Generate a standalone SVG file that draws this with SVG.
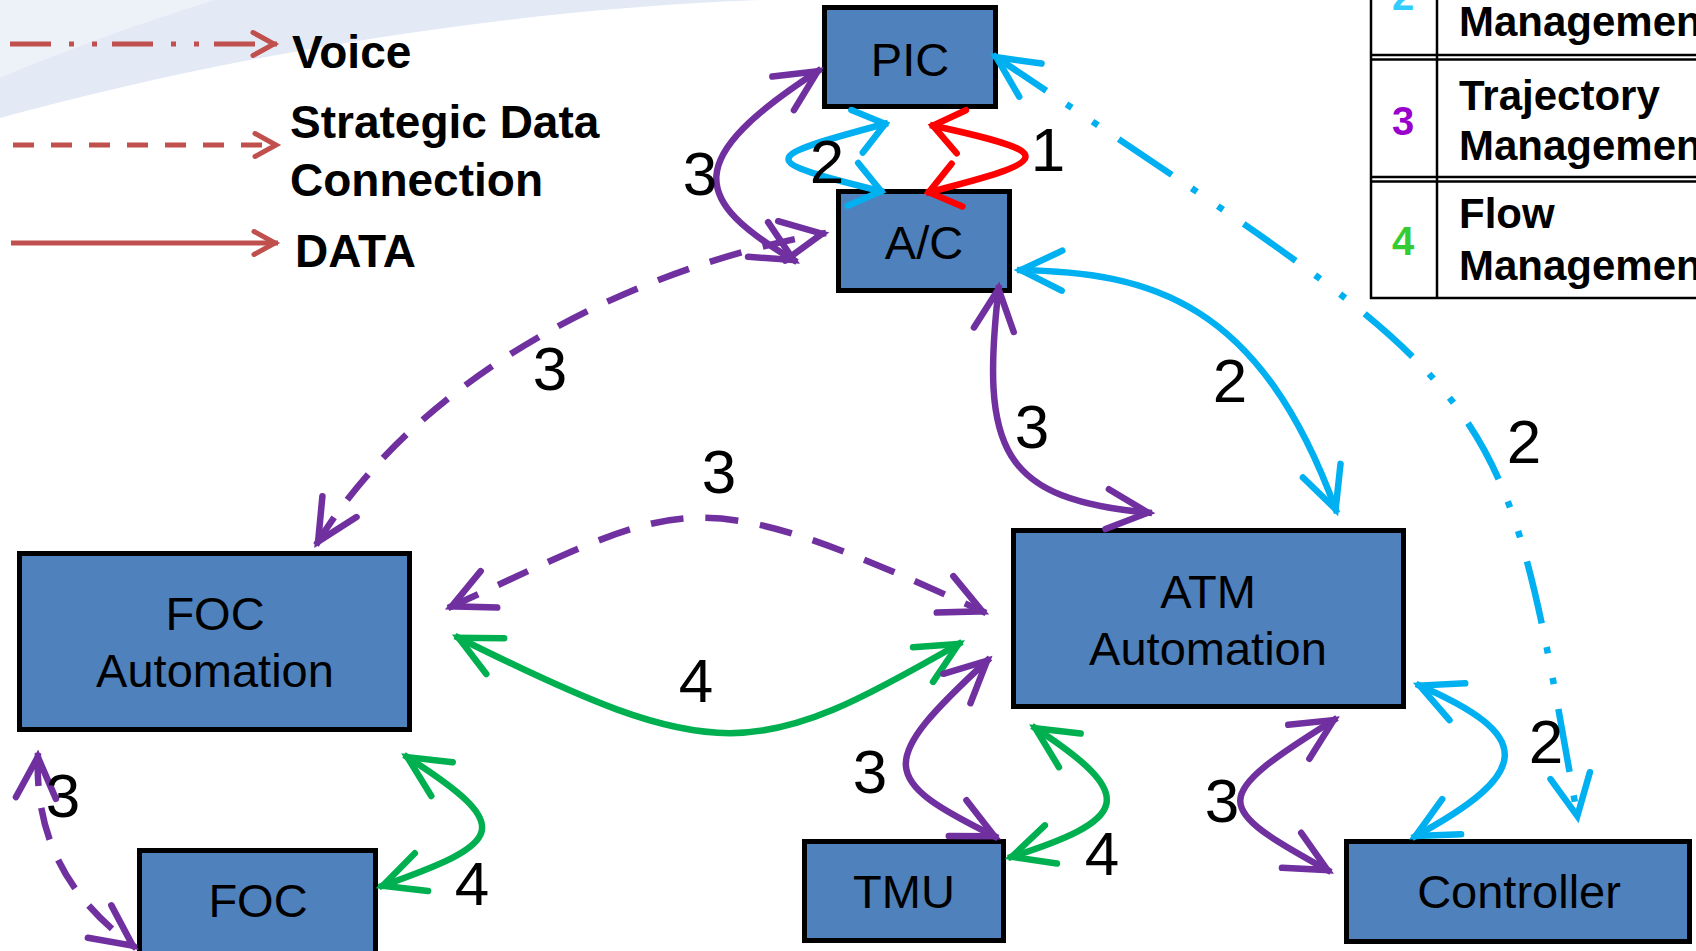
<svg xmlns="http://www.w3.org/2000/svg" width="1696" height="951" viewBox="0 0 1696 951">
<defs>
<style>
.node rect{fill:#4F81BD;stroke:#000;stroke-width:5}
.node text{font-family:"Liberation Sans",Arial,sans-serif;font-size:47px;fill:#000;text-anchor:middle}
.lbl{font-family:"Liberation Sans",Arial,sans-serif;font-size:62px;fill:#000;text-anchor:middle}
.leg{font-family:"Liberation Sans",Arial,sans-serif;font-weight:bold;font-size:46px;fill:#000}
.tbl{font-family:"Liberation Sans",Arial,sans-serif;font-weight:bold;font-size:42px;fill:#000}
.num{font-family:"Liberation Sans",Arial,sans-serif;font-weight:bold;font-size:40px;text-anchor:middle}
.c{fill:none;stroke-width:6.5}
.pu{stroke:#7030A0}.cy{stroke:#00B0F0}.gr{stroke:#00B050}.rd{stroke:#FF0000}
.dash{stroke-dasharray:33 22}
.dd{stroke-dasharray:64 24 6.5 25 6.5 25}
.lg{fill:none;stroke:#C0504D;stroke-width:5}
</style>
<marker id="mP" markerUnits="userSpaceOnUse" orient="auto-start-reverse" viewBox="-55 -30 65 60" markerWidth="65" markerHeight="60" refX="0" refY="0"><path d="M-45 -20L-4 0L-45 20" fill="none" stroke="#7030A0" stroke-width="6.5" stroke-linecap="round"/></marker>
<marker id="mC" markerUnits="userSpaceOnUse" orient="auto-start-reverse" viewBox="-55 -30 65 60" markerWidth="65" markerHeight="60" refX="0" refY="0"><path d="M-45 -20L-4 0L-45 20" fill="none" stroke="#00B0F0" stroke-width="6.5" stroke-linecap="round"/></marker>
<marker id="mG" markerUnits="userSpaceOnUse" orient="auto-start-reverse" viewBox="-55 -30 65 60" markerWidth="65" markerHeight="60" refX="0" refY="0"><path d="M-45 -20L-4 0L-45 20" fill="none" stroke="#00B050" stroke-width="6.5" stroke-linecap="round"/></marker>
<marker id="mCs" markerUnits="userSpaceOnUse" orient="auto-start-reverse" viewBox="-45 -30 55 60" markerWidth="55" markerHeight="60" refX="0" refY="0"><path d="M-32 -22L-3 0L-32 22" fill="none" stroke="#00B0F0" stroke-width="6.5" stroke-linecap="round"/></marker>
<marker id="mRs" markerUnits="userSpaceOnUse" orient="auto-start-reverse" viewBox="-45 -30 55 60" markerWidth="55" markerHeight="60" refX="0" refY="0"><path d="M-32 -22L-3 0L-32 22" fill="none" stroke="#FF0000" stroke-width="6.5" stroke-linecap="round"/></marker>
<marker id="mL" markerUnits="userSpaceOnUse" orient="auto" viewBox="-30 -20 40 40" markerWidth="40" markerHeight="40" refX="0" refY="0"><path d="M-24 -11.5L-3 0L-24 11.5" fill="none" stroke="#C0504D" stroke-width="5" stroke-linecap="round"/></marker>
</defs>

<g id="background">
<path d="M0 0H760C500 10 230 55 0 118Z" fill="#E3EAF5"/>
<path d="M0 0H215C150 20 70 48 0 78Z" fill="#EDF2F9"/>
</g>

<g id="legend-lines">
<path class="lg" d="M10 44H277" stroke-dasharray="41 18 5 18 5 15" marker-end="url(#mL)"/>
<path class="lg" d="M13 145H279" stroke-dasharray="21 17" marker-end="url(#mL)"/>
<path class="lg" d="M11 243H278" marker-end="url(#mL)"/>
<text class="leg" x="292" y="68">Voice</text>
<text class="leg" x="290" y="138">Strategic Data</text>
<text class="leg" x="290" y="196">Connection</text>
<text class="leg" x="295" y="267">DATA</text>
</g>

<g id="legend-table">
<g stroke="#000" stroke-width="2.5">
<line x1="1371" y1="0" x2="1371" y2="299"/>
<line x1="1437" y1="0" x2="1437" y2="299"/>
<line x1="1370" y1="55" x2="1696" y2="55"/>
<line x1="1370" y1="59.5" x2="1696" y2="59.5"/>
<line x1="1370" y1="177" x2="1696" y2="177"/>
<line x1="1370" y1="181.5" x2="1696" y2="181.5"/>
<line x1="1370" y1="298" x2="1696" y2="298"/>
</g>
<text class="num" x="1403" y="10" fill="#33CCFF">2</text>
<text class="num" x="1403" y="135" fill="#9900CC">3</text>
<text class="num" x="1403" y="255" fill="#33CC33">4</text>
<text class="tbl" x="1459" y="36">Management</text>
<text class="tbl" x="1459" y="110">Trajectory</text>
<text class="tbl" x="1459" y="160">Management</text>
<text class="tbl" x="1459" y="228">Flow</text>
<text class="tbl" x="1459" y="280">Management</text>
</g>

<g id="node-pic" class="node"><rect x="824.5" y="7.5" width="171" height="99"/><text x="910" y="76">PIC</text></g>
<g id="node-ac" class="node"><rect x="838.5" y="191.5" width="171" height="99"/><text x="924" y="259">A/C</text></g>
<g id="node-foc-automation" class="node"><rect x="19.5" y="553.5" width="390" height="176"/><text x="215" y="630">FOC</text><text x="215" y="687">Automation</text></g>
<g id="node-atm-automation" class="node"><rect x="1013.5" y="530.5" width="390" height="176"/><text x="1208" y="608">ATM</text><text x="1208" y="665">Automation</text></g>
<g id="node-foc" class="node"><rect x="139.5" y="850.5" width="236" height="120"/><text x="258" y="917">FOC</text></g>
<g id="node-tmu" class="node"><rect x="804.5" y="841.5" width="199" height="99"/><text x="904" y="908">TMU</text></g>
<g id="node-controller" class="node"><rect x="1346.5" y="841.5" width="343" height="100"/><text x="1519" y="908">Controller</text></g>

<g id="connectors">
<path class="c pu" d="M821 69C681 159 690 200 797 262" marker-start="url(#mP)" marker-end="url(#mP)"/>
<path class="c pu dash" d="M316 545C420 375 630 268 826 233" marker-start="url(#mP)" marker-end="url(#mP)"/>
<path class="c pu dash" d="M448 608C690 498 685 476 986 613" marker-start="url(#mP)" marker-end="url(#mP)"/>
<path class="c gr" d="M455 636C719 768 756 761 962 642" marker-start="url(#mG)" marker-end="url(#mG)"/>
<path class="c pu" d="M999 285C980 450 1000 500 1152 513" marker-start="url(#mP)" marker-end="url(#mP)"/>
<path class="c cy" d="M1017 270C1150 272 1260 300 1337 513" marker-start="url(#mC)" marker-end="url(#mC)"/>
<path class="c cy dd" d="M993 55C1514 405 1499 370 1578 820" marker-start="url(#mC)" marker-end="url(#mC)"/>
<path class="c cy" d="M1416 684C1535 735 1535 772 1412 838" marker-start="url(#mC)" marker-end="url(#mC)"/>
<path class="c pu" d="M1337 718C1207 799 1211 806 1331 872" marker-start="url(#mP)" marker-end="url(#mP)"/>
<path class="c pu" d="M990 658C875 764 878 779 998 838" marker-start="url(#mP)" marker-end="url(#mP)"/>
<path class="c gr" d="M1032 726C1142 797 1128 820 1008 858" marker-start="url(#mG)" marker-end="url(#mG)"/>
<path class="c gr" d="M404 755C519 828 504 843 379 887" marker-start="url(#mG)" marker-end="url(#mG)"/>
<path class="c pu dash" d="M38 753C34 840 70 900 136 948" marker-start="url(#mP)" marker-end="url(#mP)"/>
<path class="c cy" d="M888 123C758 158 754 160 884 192" marker-start="url(#mCs)" marker-end="url(#mCs)"/>
<path class="c rd" d="M930 125C1060 153 1056 160 926 193" marker-start="url(#mRs)" marker-end="url(#mRs)"/>
</g>

<g id="labels">
<text class="lbl" x="700" y="195">3</text>
<text class="lbl" x="827" y="183">2</text>
<text class="lbl" x="1048" y="171">1</text>
<text class="lbl" x="550" y="390">3</text>
<text class="lbl" x="719" y="493">3</text>
<text class="lbl" x="1032" y="448">3</text>
<text class="lbl" x="1230" y="402">2</text>
<text class="lbl" x="1524" y="463">2</text>
<text class="lbl" x="696" y="702">4</text>
<text class="lbl" x="870" y="793">3</text>
<text class="lbl" x="1102" y="875">4</text>
<text class="lbl" x="1222" y="822">3</text>
<text class="lbl" x="1546" y="763">2</text>
<text class="lbl" x="63" y="817">3</text>
<text class="lbl" x="472" y="905">4</text>
</g>
</svg>
